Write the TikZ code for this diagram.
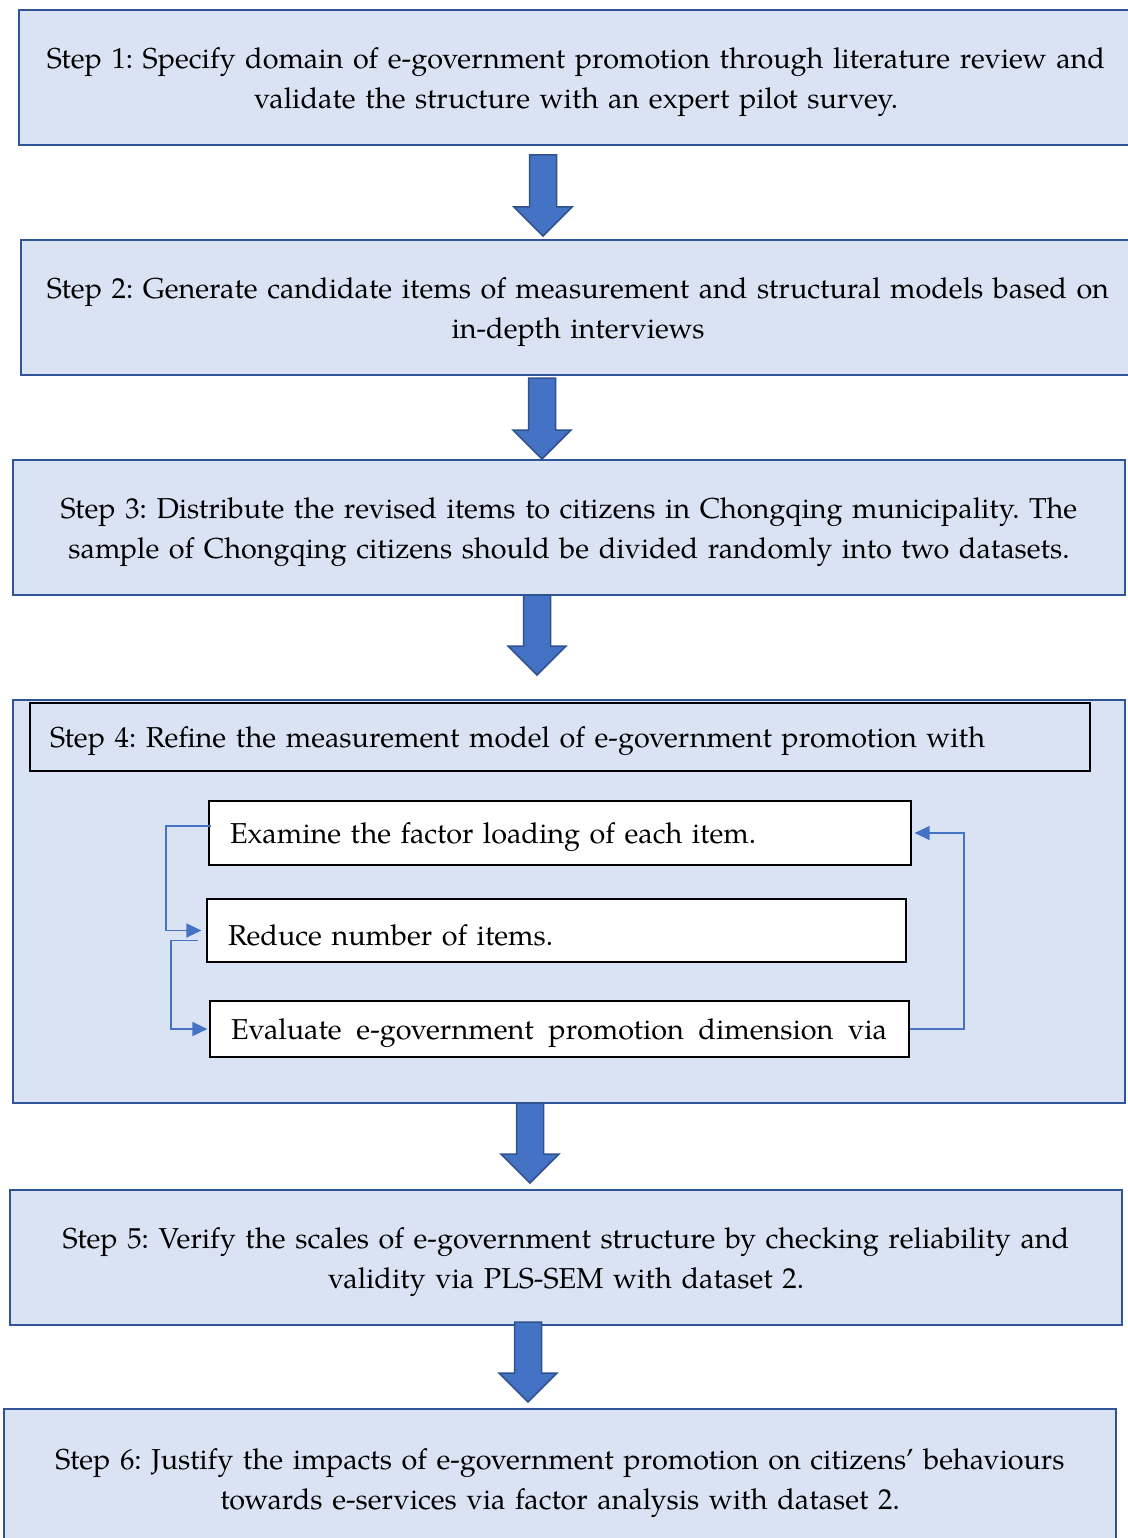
\documentclass[tikz,border=0pt]{standalone}
\usepackage{fontspec}
\setmainfont{TeX Gyre Pagella}
\frenchspacing
\usetikzlibrary{arrows.meta}
\definecolor{stepfill}{HTML}{DAE3F3}
\definecolor{stepline}{HTML}{2F5597}
\definecolor{arrowfill}{HTML}{4472C4}
\definecolor{arrowline}{HTML}{2F528F}
% block arrow: #1 = x centre, #2 = top, #3 = tip
\newcommand\blockarrow[3]{%
  \filldraw[bigarrow] (#1-13.5,#2) -- (#1+13.5,#2) -- (#1+13.5,#3-29) -- (#1+29,#3-29)
    -- (#1,#3) -- (#1-29,#3-29) -- (#1-13.5,#3-29) -- cycle;}
\begin{document}
\begin{tikzpicture}[x=1pt,y=-1pt,
  every node/.style={font=\fontsize{28.8}{40}\selectfont, inner sep=0pt},
  lowstrut/.style={execute at begin node={\rule{0pt}{#1}}},
  lowstrut/.default=30pt,
  stepbox/.style={draw=stepline, fill=stepfill, line width=2.5pt, align=center,
    text width=1100pt, lowstrut},
  innerbox/.style={draw=black, fill=white, line width=1.2pt, align=left,
    inner xsep=21pt, lowstrut},
  bigarrow/.style={fill=arrowfill, draw=arrowline, line width=1.5pt, line join=miter},
  loopline/.style={draw=arrowfill, line width=1.3pt,
    -{Triangle[length=15pt,width=14pt]}}]
\useasboundingbox (0,0) rectangle (1127,1538);

% main steps
\node[stepbox, minimum width=1114pt, minimum height=135pt] (s1) at (576,77.5)
  {Step 1: Specify domain of e-government promotion through literature review and\\
   validate the structure with an expert pilot survey.};
\node[stepbox, minimum width=1114pt, minimum height=135pt] (s2) at (578,307.5)
  {Step 2: Generate candidate items of measurement and structural models based on\\
   in-depth interviews};
\node[stepbox, minimum width=1112pt, minimum height=135pt] (s3) at (569,527.5)
  {Step 3: Distribute the revised items to citizens in Chongqing municipality. The\\
   sample of Chongqing citizens should be divided randomly into two datasets.};
\node[stepbox, minimum width=1112pt, minimum height=403pt] (s4) at (569,901.5) {};
\node[stepbox, minimum width=1112pt, minimum height=135pt] (s5) at (566,1257.5)
  {Step 5: Verify the scales of e-government structure by checking reliability and\\
   validity via PLS-SEM with dataset 2.};
\node[stepbox, minimum width=1112pt, minimum height=140pt] (s6) at (560,1479)
  {Step 6: Justify the impacts of e-government promotion on citizens' behaviours\\
   towards e-services via factor analysis with dataset 2.};

% step 4 contents
\node[innerbox, fill=stepfill, inner xsep=20pt, text width=1020pt, lowstrut=24pt,
  minimum width=1060pt, minimum height=68pt] (h4) at (560,737)
  {Step 4: Refine the measurement model of e-government promotion with};
\node[innerbox, text width=660pt, minimum width=702pt, minimum height=64pt] (in1) at (560,833)
  {Examine the factor loading of each item.};
\node[innerbox, text width=657pt, minimum width=699pt, minimum height=63pt, lowstrut=26pt]
  (in2) at (556.5,930.5)
  {Reduce number of items.};
\node[innerbox, text width=657pt, minimum width=699pt, minimum height=56pt] (in3) at (559.5,1029)
  {\hbox to 656pt{Evaluate\hfill e-government\hfill promotion\hfill dimension\hfill via}};

% feedback loop
\draw[loopline, shorten >=5pt] ([yshift=7pt,xshift=3pt]in1.west) -| (166,880) |- (in2.west);
\draw[loopline, shorten >=2pt] ([yshift=-10pt,xshift=-8pt]in2.west) -| (171,980) |- (in3.west);
\draw[loopline, shorten >=3pt] (in3.east) -| (964,930) |- (in1.east);

% arrows between steps
\blockarrow{543}{155}{236}
\blockarrow{542}{378}{459}
\blockarrow{537}{595}{675}
\blockarrow{530}{1103}{1183}
\blockarrow{528}{1322}{1402}
\end{tikzpicture}
\end{document}
